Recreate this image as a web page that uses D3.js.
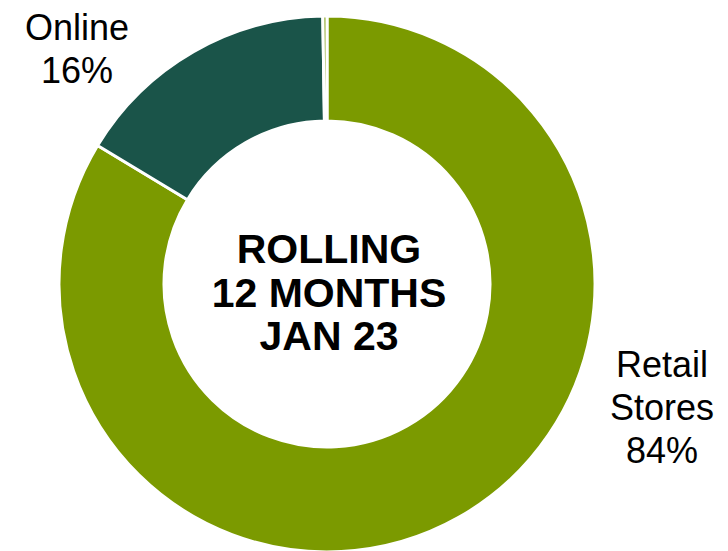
<!DOCTYPE html>
<html>
<head>
<meta charset="utf-8">
<script src="https://cdn.jsdelivr.net/npm/d3@7"></script>
<style>
  body { margin: 0; background: #fff; }
  text { font-family: "Liberation Sans", Arial, sans-serif; fill: #000; }
</style>
</head>
<body>
<svg id="chart"></svg>
<script>
// Channel shares, rolling 12 months
var channels = ['Retail Stores', 'Online', 'Other'];
var shares = [83.65, 16.1, 0.25];
var labelLines = [['Retail', 'Stores', '84%'], ['Online', '16%'], []];
var centerLines = ['ROLLING', '12 MONTHS', 'JAN 23'];

var width = 728;
var height = 551;
var cx = 327, cy = 284;
var outerR = 268, innerR = 163;

var data = channels.map(function (c, i) {
  return { channel: c, value: shares[i], lines: labelLines[i] };
});

var color = d3.scaleOrdinal()
  .domain(channels)
  .range(['#7b9a00', '#1a5449', '#8fa82a']);

var svg = d3.select('#chart')
  .attr('width', width)
  .attr('height', height);

var pie = d3.pie()
  .sort(null)
  .value(function (d) { return d.value; });

var arc = d3.arc()
  .innerRadius(innerR)
  .outerRadius(outerR);

var g = svg.append('g')
  .attr('transform', 'translate(' + cx + ',' + cy + ')');

g.selectAll('.slice')
  .data(pie(data))
  .enter()
  .append('path')
  .classed('slice', true)
  .attr('d', arc)
  .attr('fill', function (d) { return color(d.data.channel); })
  .attr('stroke', '#fff')
  .attr('stroke-width', 3);

// Outside labels
var labelPos = {
  'Retail Stores': [662 - cx, 377 - cy],
  'Online': [77 - cx, 40 - cy]
};
var lineHeight = 43;

g.selectAll('.label')
  .data(pie(data).filter(function (d) { return d.data.lines.length; }))
  .enter()
  .append('text')
  .classed('label', true)
  .attr('text-anchor', 'middle')
  .style('font-size', '36px')
  .each(function (d) {
    var p = labelPos[d.data.channel];
    d3.select(this).selectAll('tspan')
      .data(d.data.lines)
      .enter()
      .append('tspan')
      .attr('x', p[0])
      .attr('y', function (t, i) { return p[1] + i * lineHeight; })
      .text(function (t) { return t; });
  });

// Center title
g.append('text')
  .attr('text-anchor', 'middle')
  .style('font-size', '41px')
  .style('font-weight', 'bold')
  .selectAll('tspan')
  .data(centerLines)
  .enter()
  .append('tspan')
  .attr('x', 2)
  .attr('y', function (t, i) { return -21 + i * 43.5; })
  .text(function (t) { return t; });
</script>
</body>
</html>
